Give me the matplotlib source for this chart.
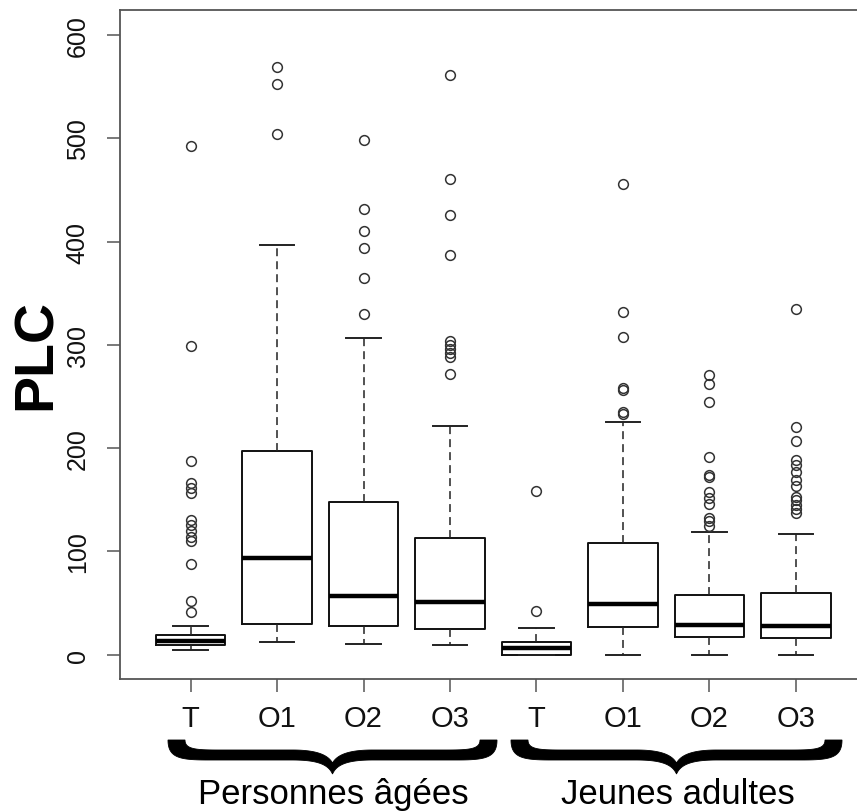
import numpy as np
import matplotlib
matplotlib.use("Agg")
import matplotlib.pyplot as plt
from matplotlib.path import Path
from matplotlib.patches import PathPatch
from matplotlib.transforms import IdentityTransform

# --- data -------------------------------------------------------------
tick_labels = ["T", "O1", "O2", "O3", "T", "O1", "O2", "O3"]
group_labels = ["Personnes âgées", "Jeunes adultes"]

q1 = [9.7, 29.7, 28.0, 24.8, 0.0, 26.7, 17.2, 15.7]
medians = [12.9, 93.1, 56.4, 50.6, 6.5, 48.9, 28.7, 27.4]
q3 = [19.3, 197.2, 147.6, 113.1, 12.4, 107.7, 58.0, 59.7]
whisker_low = [4.8, 12.3, 10.6, 9.7, 0.0, 0.0, 0.0, 0.0]
whisker_high = [27.4, 396.3, 306.7, 221.4, 26.0, 225.2, 118.5, 116.9]

outliers = [
    [41.5, 52, 87.5, 109.5, 114, 120, 125, 130.5, 156, 161, 166, 187, 299, 493],
    [504, 553, 569],
    [330, 365, 394, 410, 432, 498.5],
    [272, 288, 292, 296, 300, 304, 387, 426, 461, 561],
    [42.5, 158],
    [232.5, 235, 256, 258, 307.6, 332, 456],
    [124.7, 128.9, 132.7, 146, 151.5, 157, 172, 174, 191.7, 245, 262.5, 270.5],
    [137, 141, 145, 150, 153, 163, 169, 177, 184, 188.5, 207, 220, 334.7],
]

y_ticks = [0, 100, 200, 300, 400, 500, 600]

# --- figure -----------------------------------------------------------
W, H = 857, 812
plt.rcParams["font.family"] = ["Liberation Sans", "DejaVu Sans"]
fig = plt.figure(figsize=(W / 100, H / 100), dpi=100)

# plot region in pixels (the right border runs past the canvas edge)
left, right, top, bottom = 119.6, 866.9, 11.3, 680.3
ax = fig.add_axes([left / W, (H - bottom) / H, (right - left) / W, (bottom - top) / H])

stats = []
for i in range(len(tick_labels)):
    stats.append(dict(med=medians[i], q1=q1[i], q3=q3[i],
                      whislo=whisker_low[i], whishi=whisker_high[i],
                      fliers=outliers[i]))

positions = np.arange(1, len(tick_labels) + 1)
ax.bxp(stats, positions=positions, widths=0.8, capwidths=0.4,
       boxprops=dict(color="#111111", lw=1.4),
       medianprops=dict(color="black", lw=3.2, solid_capstyle="butt"),
       whiskerprops=dict(color="#222222", lw=1.1, linestyle=(0, (5.2, 3.3))),
       capprops=dict(color="#222222", lw=1.4),
       flierprops=dict(marker="o", markerfacecolor="none",
                       markeredgecolor="#333333", markersize=7,
                       markeredgewidth=1.1))

ax.set_xlim(0.18, 8.82)
ax.set_ylim(-24, 624)

ax.set_yticks(y_ticks)
ax.set_yticklabels([str(v) for v in y_ticks], rotation=90, va="center",
                   fontsize=18, color="#111111")
ax.set_xticks(positions)
ax.set_xticklabels(tick_labels, fontsize=21, color="#111111")

for s in ax.spines.values():
    s.set_color("#555555")
    s.set_linewidth(1.3)
ax.tick_params(axis="y", length=9.5, width=1.1, color="#555555", pad=12)
ax.tick_params(axis="x", length=9.5, width=1.1, color="#555555", pad=8)

fig.text(37 / W, 1 - 355 / H, "PLC", rotation=90, fontsize=40,
         fontweight="bold", ha="center", va="center")


# --- curly braces grouping the conditions -----------------------------
def bezier(p0, p1, p2, p3, n=40):
    t = np.linspace(0, 1, n)[:, None]
    p0, p1, p2, p3 = map(np.asarray, (p0, p1, p2, p3))
    return ((1 - t) ** 3) * p0 + 3 * ((1 - t) ** 2) * t * p1 \
        + 3 * (1 - t) * t ** 2 * p2 + t ** 3 * p3


def half_edges(x0, xm, y_top, yu, yl, tip_up, tip_low, end_w):
    inner = np.vstack([
        bezier((x0 + end_w, y_top), (x0 + end_w, yu - 1), (x0 + end_w + 10, yu), (x0 + 50, yu)),
        bezier((x0 + 50, yu), (x0 + 50, yu), (xm - 40, yu), (xm - 40, yu), n=2),
        bezier((xm - 40, yu), (xm - 18, yu), (xm - 5, yu + 4), (xm, tip_up)),
    ])
    outer = np.vstack([
        bezier((x0, y_top), (x0, yl - 2), (x0 + 12, yl), (x0 + 40, yl)),
        bezier((x0 + 40, yl), (x0 + 40, yl), (xm - 40, yl), (xm - 40, yl), n=2),
        bezier((xm - 40, yl), (xm - 14, yl), (xm - 4, yl + 5), (xm, tip_low)),
    ])
    return inner, outer


def draw_brace(x0, x1, y_top=741, yu=751, yl=761, tip_up=764, tip_low=775, end_w=17):
    xm = (x0 + x1) / 2
    inner_l, outer_l = half_edges(x0, xm, y_top, yu, yl, tip_up, tip_low, end_w)
    inner_r = inner_l.copy()
    inner_r[:, 0] = x0 + x1 - inner_r[:, 0]
    outer_r = outer_l.copy()
    outer_r[:, 0] = x0 + x1 - outer_r[:, 0]
    pts = np.vstack([inner_l, inner_r[::-1], outer_r, outer_l[::-1]])
    pts[:, 1] = H - pts[:, 1]
    path = Path(np.vstack([pts, pts[:1]]),
                [Path.MOVETO] + [Path.LINETO] * (len(pts) - 1) + [Path.CLOSEPOLY])
    fig.add_artist(PathPatch(path, facecolor="black", edgecolor="black",
                             lw=0.6, transform=IdentityTransform()))


draw_brace(168, 497)
draw_brace(511, 842)

fig.text(333 / W, 1 - 804 / H, group_labels[0], fontsize=25,
         ha="center", va="baseline")
fig.text(678 / W, 1 - 804 / H, group_labels[1], fontsize=25,
         ha="center", va="baseline")

fig.savefig("out.png", dpi=100)
